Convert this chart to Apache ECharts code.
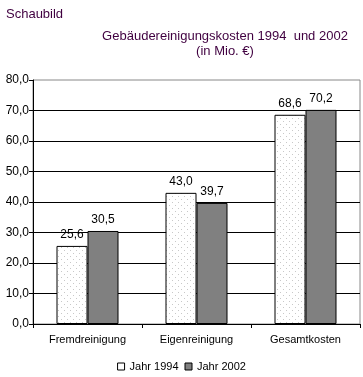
<!DOCTYPE html>
<html><head><meta charset="utf-8">
<script src="https://cdn.jsdelivr.net/npm/echarts@6/dist/echarts.min.js"></script>
<style>html,body{margin:0;padding:0;background:#fff}#c{width:363px;height:377px}</style>
</head><body><div id="c"></div>
<script>
const categories = ['Fremdreinigung', 'Eigenreinigung', 'Gesamtkosten'];
const jahr1994 = [25.6, 43.0, 68.6];
const jahr2002 = [30.5, 39.7, 70.2];
const seriesNames = ['Jahr 1994', 'Jahr 2002'];

function dotPattern() {
  const c = document.createElement('canvas');
  c.width = 6; c.height = 6;
  const g = c.getContext('2d');
  g.fillStyle = '#ffffff'; g.fillRect(0, 0, 6, 6);
  g.fillStyle = '#c8c8c8';
  g.fillRect(1, 1, 1, 1);
  g.fillRect(4, 4, 1, 1);
  return c;
}
const fmt = v => v.toFixed(1).replace('.', ',');
const font = 'Liberation Sans, Arial, sans-serif';
const chart = echarts.init(document.getElementById('c'), null, {renderer: 'canvas'});
chart.setOption({
  animation: false,
  textStyle: {fontFamily: font},
  title: [
    {text: 'Schaubild', left: 1, top: 3, textStyle: {fontSize: 13, fontWeight: 'normal', color: '#400040', fontFamily: font}},
    {text: 'Gebäudereinigungskosten 1994  und 2002\n(in Mio. €)', left: 220, top: 24, textAlign: 'center',
     textStyle: {fontSize: 13, fontWeight: 'normal', color: '#400040', lineHeight: 15, align: 'center', fontFamily: font}}
  ],
  legend: {
    bottom: 0, left: 'center', itemWidth: 7, itemHeight: 7, itemGap: 6,
    textStyle: {fontSize: 11, color: '#000', fontFamily: font},
    data: seriesNames.map((n, i) => ({name: n, icon: 'rect', itemStyle: {color: i ? '#808080' : '#fff', borderColor: '#000', borderWidth: 1}}))
  },
  grid: {left: 33, right: 3, top: 80, bottom: 53, show: true, borderColor: '#888', borderWidth: 1, backgroundColor: 'transparent'},
  xAxis: {
    type: 'category', data: categories,
    axisLine: {lineStyle: {color: '#000'}},
    axisTick: {show: true, length: 4, lineStyle: {color: '#000'}},
    axisLabel: {color: '#000', fontSize: 11, margin: 10, fontFamily: font}
  },
  yAxis: {
    type: 'value', min: 0, max: 80, interval: 10,
    axisLine: {show: true, lineStyle: {color: '#000'}},
    axisTick: {show: true, length: 4, lineStyle: {color: '#000'}},
    splitLine: {showMaxLine: false, lineStyle: {color: '#000'}},
    axisLabel: {color: '#000', fontSize: 12, margin: 4, formatter: v => fmt(v), fontFamily: font}
  },
  series: [
    {name: seriesNames[0], type: 'bar', data: jahr1994, barWidth: 31, barGap: '0%',
     itemStyle: {color: {image: dotPattern(), repeat: 'repeat'}, borderColor: '#000', borderWidth: 1},
     label: {show: true, position: 'top', distance: 5, color: '#000', fontSize: 12, formatter: p => fmt(p.value), fontFamily: font}},
    {name: seriesNames[1], type: 'bar', data: jahr2002, barWidth: 31,
     itemStyle: {color: '#808080', borderColor: '#000', borderWidth: 1},
     label: {show: true, position: 'top', distance: 5, color: '#000', fontSize: 12, formatter: p => fmt(p.value), fontFamily: font}}
  ]
});
</script></body></html>
